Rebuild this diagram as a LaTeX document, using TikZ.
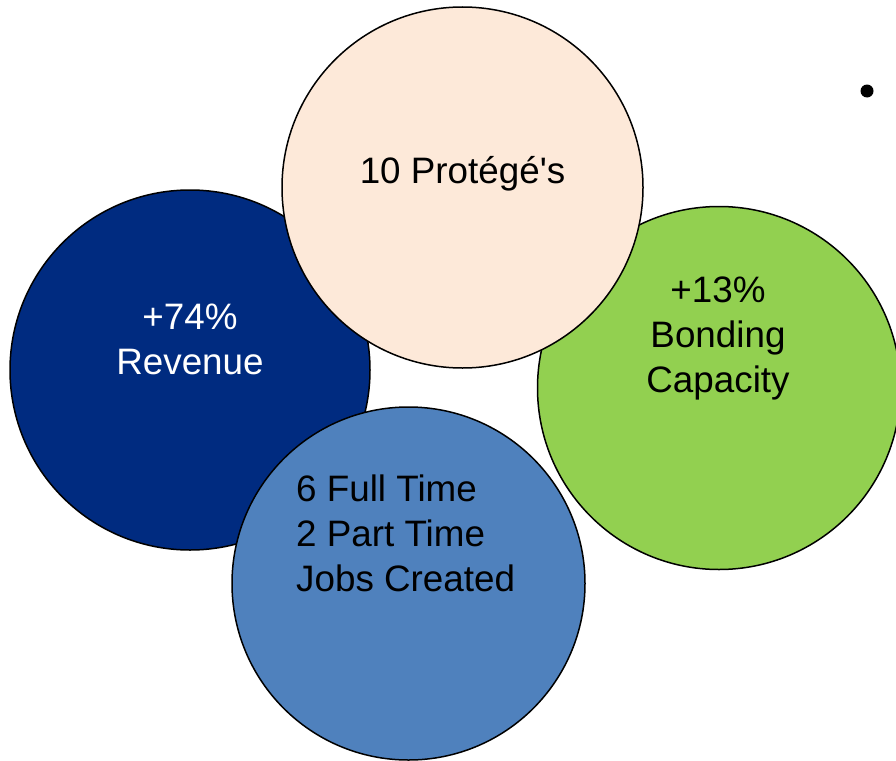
\documentclass[tikz,border=0pt]{standalone}
\usepackage{fontspec}
\setmainfont{Liberation Sans}[Ligatures=TeXOff]
\definecolor{darkblue}{HTML}{002B80}
\definecolor{peach}{HTML}{FDE9D9}
\definecolor{green}{HTML}{92D050}
\definecolor{lightblue}{HTML}{4F81BD}
\begin{document}
\begin{tikzpicture}[x=1pt,y=-1pt,
  bubble/.style={circle,draw=black,line width=1.5pt,inner sep=0pt},
  label/.style={inner sep=0pt,font=\fontsize{36.8}{45}\selectfont}]
\clip (0,0) rectangle (896,760);
\useasboundingbox (0,0) rectangle (896,760);
\node[bubble,fill=darkblue,minimum size=360pt] (rev) at (190,370) {};
\node[bubble,fill=green,minimum size=363pt] (bond) at (719,388) {};
\node[bubble,fill=peach,minimum size=361pt] (prot) at (462.5,187.5) {};
\node[bubble,fill=lightblue,minimum size=353pt] (jobs) at (408.5,583.5) {};
\node[label,anchor=base,align=center,text=white] (revt) at (190,374) {+74\%\\Revenue};
\node[label,anchor=base,align=center] (bondt) at (718,392) {+13\%\\Bonding\\Capacity};
\node[label,anchor=base] (prott) at (462.5,183) {10 Protégé's};
\node[label,anchor=base west,align=left] (jobst) at (296,591) {6 Full Time\\2 Part Time\\Jobs Created};
\node[circle,fill=black,inner sep=0pt,minimum size=13pt] (bullet) at (867,91) {};
\end{tikzpicture}
\end{document}
